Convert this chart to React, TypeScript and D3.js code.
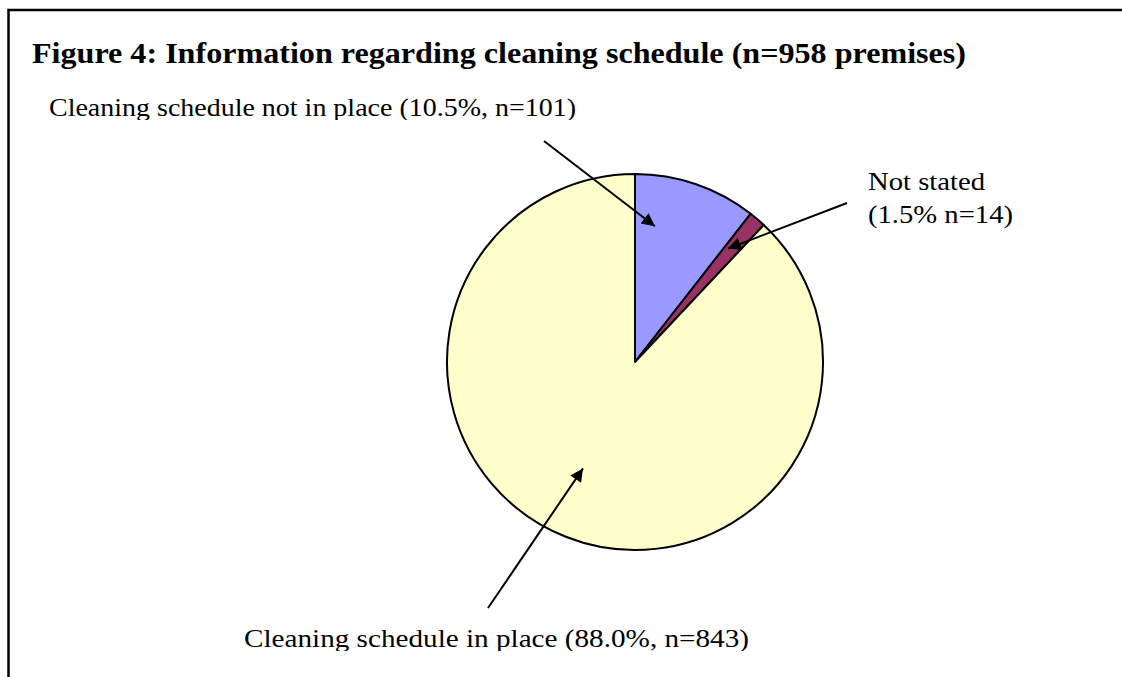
import React, { useRef, useEffect } from 'react'
import * as d3 from 'd3'

const categories = ['Cleaning schedule not in place', 'Not stated', 'Cleaning schedule in place']
const counts = [101, 14, 843]
const colors = ['#9999FF', '#993366', '#FFFFCC']

const title = 'Figure 4: Information regarding cleaning schedule (n=958 premises)'

const labelLines = [
  ['Cleaning schedule not in place (10.5%, n=101)'],
  ['Not stated', '(1.5% n=14)'],
  ['Cleaning schedule in place (88.0%, n=843)']
]

const W = 1122
const H = 677
const FONT = '"Liberation Serif", "Times New Roman", serif'

export default function App() {
  const svgRef = useRef<SVGSVGElement>(null)

  useEffect(() => {
    if (!svgRef.current) return
    const svg = d3.select(svgRef.current)
    svg.selectAll('*').remove()

    const cx = 635
    const cy = 362
    const r = 188

    const defs = svg.append('defs')

    // рамка
    svg.append('rect')
      .attr('x', 8.5).attr('y', 10)
      .attr('width', W + 20).attr('height', H + 20)
      .attr('fill', 'none').attr('stroke', '#000').attr('stroke-width', 2.5)

    svg.append('text')
      .attr('x', 32).attr('y', 63)
      .attr('textLength', 934)
      .attr('lengthAdjust', 'spacingAndGlyphs')
      .style('font-family', FONT)
      .style('font-weight', 'bold')
      .style('font-size', '30px')
      .text(title)

    const data = categories.map((c, i) => ({ label: c, value: counts[i], color: colors[i] }))
    const pie = d3.pie<any>().sort(null).value(d => d.value)
    const arcs = pie(data)
    const arc = d3.arc<any>().innerRadius(0).outerRadius(r)

    const g = svg.append('g').attr('transform', `translate(${cx},${cy})`)
    g.selectAll('path')
      .data(arcs)
      .enter()
      .append('path')
      .attr('d', arc)
      .attr('fill', d => d.data.color)
      .attr('stroke', '#000')
      .attr('stroke-width', 2)
      .attr('stroke-linejoin', 'round')

    defs.append('marker')
      .attr('id', 'arrow')
      .attr('viewBox', '0 0 10 10')
      .attr('refX', 10).attr('refY', 5)
      .attr('markerWidth', 16).attr('markerHeight', 13)
      .attr('markerUnits', 'userSpaceOnUse')
      .attr('orient', 'auto')
      .append('path')
      .attr('d', 'M0,0 L10,5 L0,10 z')
      .attr('fill', '#000')

    // где стрелка касается сектора: доля угла сектора и доля радиуса
    const targets = [
      { a: 0.22, rf: 0.73, from: [544, 141] },
      { a: 0.26, rf: 0.78, from: [847, 203] },
      { a: 0.514, rf: 0.63, from: [488, 608] }
    ]
    arcs.forEach((d, i) => {
      const t = targets[i]
      const ang = d.startAngle + (d.endAngle - d.startAngle) * t.a
      const tx = cx + Math.sin(ang) * r * t.rf
      const ty = cy - Math.cos(ang) * r * t.rf
      svg.append('line')
        .attr('x1', t.from[0]).attr('y1', t.from[1])
        .attr('x2', tx).attr('y2', ty)
        .attr('stroke', '#000').attr('stroke-width', 2)
        .attr('marker-end', 'url(#arrow)')
    })

    // подписи обрезаны снизу, как в оригинале
    const clips = [120, 0, 651]
    clips.forEach((c, i) => {
      if (!c) return
      defs.append('clipPath').attr('id', `clip${i}`)
        .append('rect').attr('x', 0).attr('y', 0).attr('width', W).attr('height', c)
    })

    const labelPos = [[49, 116], [868, 190], [244, 647]]
    const labelWidths = [[527], [117, 145], [505]]
    labelLines.forEach((lines, i) => {
      lines.forEach((ln, j) => {
        const t = svg.append('text')
          .attr('x', labelPos[i][0]).attr('y', labelPos[i][1] + j * 33)
          .attr('textLength', labelWidths[i][j])
          .attr('lengthAdjust', 'spacingAndGlyphs')
          .style('font-family', FONT)
          .style('font-size', '26px')
          .text(ln)
        if (clips[i]) t.attr('clip-path', `url(#clip${i})`)
      })
    })
  }, [])

  return (
    <svg ref={svgRef} width={W} height={H}
      style={{ position: 'absolute', left: 0, top: 0, background: '#fff' }} />
  )
}
